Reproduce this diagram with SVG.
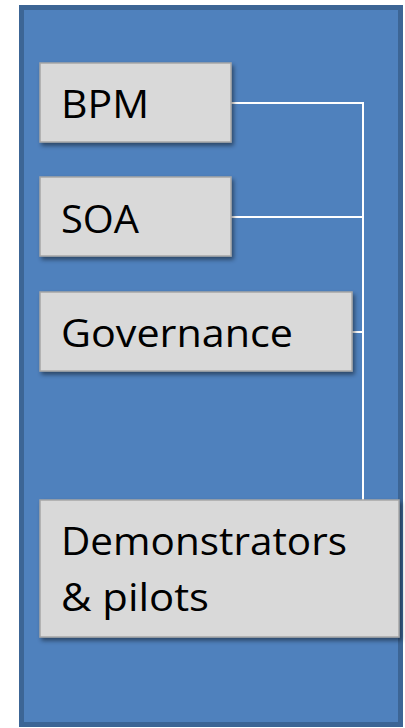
<svg xmlns="http://www.w3.org/2000/svg" width="405" height="728" viewBox="0 0 405 728">
<style>
.box{fill:#d9d9d9;stroke:#a6a6a6;stroke-width:1.5;filter:url(#sh)}
.lbl{font-family:"Open Sans","Liberation Sans",Arial,sans-serif;font-size:39px;fill:#000}
.con{fill:none;stroke:#fff;stroke-width:2}
</style>
<defs>
<filter id="sh" x="-10%" y="-10%" width="130%" height="140%">
<feDropShadow dx="2" dy="3" stdDeviation="2" flood-color="#000" flood-opacity="0.45"/>
</filter>
</defs>
<rect x="21.5" y="7.5" width="379" height="717" fill="#4f81bd" stroke="#3c6595" stroke-width="5"/>
<g id="connectors">
<path class="con" d="M231 103H363V500M231 217H363M349 332H363"/>
</g>
<g id="bpm">
<rect class="box" x="40" y="63" width="191" height="79"/>
<text class="lbl" x="61" y="118" textLength="88" lengthAdjust="spacingAndGlyphs">BPM</text>
</g>
<g id="soa">
<rect class="box" x="40" y="177" width="191" height="79"/>
<text class="lbl" x="61" y="233" textLength="78" lengthAdjust="spacingAndGlyphs">SOA</text>
</g>
<g id="governance">
<rect class="box" x="40" y="292" width="312" height="79"/>
<text class="lbl" x="61" y="347" textLength="232" lengthAdjust="spacingAndGlyphs">Governance</text>
</g>
<g id="demonstrators">
<rect class="box" x="40" y="500" width="359" height="137"/>
<text class="lbl" x="61" y="555" textLength="286" lengthAdjust="spacingAndGlyphs">Demonstrators</text>
<text class="lbl" x="61" y="611" textLength="148" lengthAdjust="spacingAndGlyphs">&amp; pilots</text>
</g>
</svg>
